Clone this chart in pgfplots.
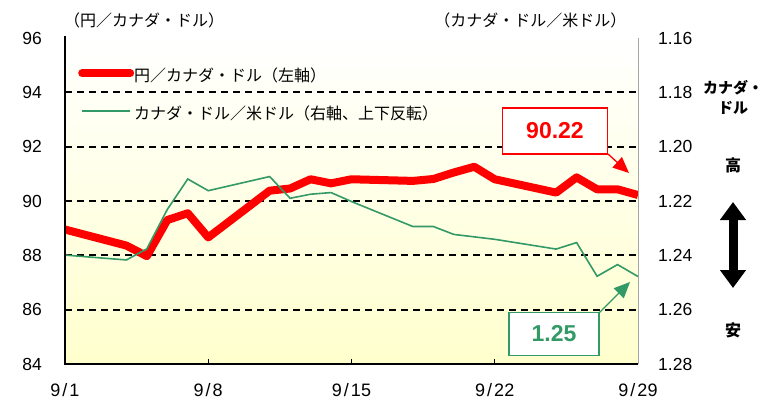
\documentclass[border=0pt]{standalone}
\usepackage{pgfplots}
\pgfplotsset{compat=1.18}
\usepackage{fontspec}
\setmainfont{Liberation Sans}
\newfontfamily\jp{Noto Sans CJK JP}
\usetikzlibrary{arrows.meta}
\definecolor{cred}{RGB}{255,0,0}
\definecolor{cgreen}{RGB}{51,153,102}
\definecolor{bgy}{RGB}{255,255,205}
\newcommand{\fs}[1]{\fontsize{#1}{#1}\selectfont}
\pgfplotstableread{
d v
1 88.95
4 88.36
5 87.97
6 89.30
7 89.55
8 88.66
11 90.38
12 90.46
13 90.80
14 90.65
15 90.80
18 90.74
19 90.81
20 91.05
21 91.26
22 90.80
25 90.31
26 90.87
27 90.43
28 90.43
29 90.22
}\jpycad
\pgfplotstableread{
d v
1 1.2399
4 1.2417
5 1.2376
6 1.2231
7 1.2119
8 1.2162
11 1.2110
12 1.2190
13 1.2175
14 1.2169
15 1.2202
18 1.2294
19 1.2294
20 1.2323
21 1.2332
22 1.2341
25 1.2377
26 1.2353
27 1.2477
28 1.2434
29 1.2478
}\cadusd
\begin{document}
\begin{tikzpicture}[x=1pt,y=1pt]
\begin{axis}[
  at={(65pt,36pt)}, anchor=south west,
  scale only axis, width=573pt, height=326pt,
  xmin=1, xmax=29, ymin=84, ymax=96,
  /pgf/number format/assume math mode=true,
  axis background/.style={top color=white, bottom color=bgy},
  axis line style={draw=gray!70, line width=0.8pt},
  axis x line*=bottom, axis y line*=left,
  xtick={1,8,15,22,29},
  xticklabels={9\kern2pt/\kern2pt1, 9\kern2pt/\kern2pt8, 9\kern2pt/\kern2pt15, 9\kern2pt/\kern2pt22, 9\kern2pt/\kern2pt29},
  xtick align=inside, major tick length=5pt,
  x tick style={black, line width=1pt},
  ytick={84,86,...,96},
  y tick style={draw=none},
  extra y ticks={86,88,90,92,94},
  extra y tick labels={},
  extra y tick style={grid=major, major grid style={black, line width=1.7pt, dash pattern=on 7pt off 5pt}},
  xticklabel style={font=\fs{18}, anchor=center, yshift=-26pt},
  yticklabel style={font=\fs{17.5}, anchor=east, inner sep=0pt, xshift=-23pt},
  clip=false,
]
\addplot[cred, line width=8pt, line join=round] table[x=d,y=v]{\jpycad};
\end{axis}
\begin{axis}[
  at={(65pt,36pt)}, anchor=south west,
  scale only axis, width=573pt, height=326pt,
  xmin=1, xmax=29, ymin=1.16, ymax=1.28, y dir=reverse,
  /pgf/number format/assume math mode=true,
  axis x line=none, axis y line*=right,
  axis line style={draw=gray!70, line width=0.8pt},
  ytick={1.16,1.18,...,1.28},
  y tick style={draw=none},
  yticklabel={\pgfmathprintnumber[fixed,fixed zerofill,precision=2]{\tick}},
  yticklabel style={font=\fs{17.5}, anchor=west, inner sep=0pt, xshift=20pt},
  legend style={at={(0,1)}, anchor=north west, xshift=10pt, yshift=-29pt,
    draw=none, fill=none, font=\jp\fs{16}, row sep=22pt,
    nodes={inner sep=0pt, text height=12pt, text depth=4pt}},
  legend cell align=left,
  legend image code/.code={\draw[#1] (4pt,4pt) -- (52pt,4pt);},
  /tikz/every even column/.append style={column sep=9pt},
  clip=false,
]
\addlegendimage{cred, line width=8pt, line cap=round}
\addlegendentry{円／カナダ・ドル（左軸）}
\addplot[cgreen, line width=1.6pt] table[x=d,y=v]{\cadusd};
\addlegendentry{カナダ・ドル／米ドル（右軸、上下反転）}
\end{axis}
% black left and bottom axis lines
\draw[black, line width=1.6pt] (65pt,364pt) -- (65pt,36pt) -- (638pt,36pt);
% titles
\node[font=\jp\fs{16}] at (144pt,380pt) {（円／カナダ・ドル）};
\node[font=\jp\fs{16}, anchor=east] at (630pt,380pt) {（カナダ・ドル／米ドル）};
% annotations
\node[draw=cred, line width=1.3pt, fill=white, minimum width=105pt, minimum height=46pt,
  font=\bfseries\fs{23}, text=cred] (rb) at (555pt,269pt) {90.22};
\draw[cred, line width=1.3pt, -{Triangle[length=16pt,width=14pt]}] (608pt,246pt) -- (629pt,227pt);
\node[draw=cgreen, line width=1.3pt, fill=white, minimum width=90pt, minimum height=43pt,
  font=\bfseries\fs{23}, text=cgreen] (gb) at (554pt,66pt) {1.25};
\draw[cgreen, line width=1.3pt, -{Triangle[length=16pt,width=14pt]}] (599pt,87pt) -- (630pt,118pt);
% right side legend
\node[font=\jp\bfseries\fs{15}, align=center, inner sep=0pt] at (733pt,303pt) {カナダ・\\[5pt]ドル};
\node[font=\jp\bfseries\fs{16}] at (733pt,235pt) {高};
\draw[black, line width=9pt, {Triangle[length=18pt,width=25pt]}-{Triangle[length=18pt,width=25pt]}] (733pt,198pt) -- (733pt,112pt);
\node[font=\jp\bfseries\fs{16}] at (733pt,70pt) {安};
\pgfresetboundingbox
\useasboundingbox (0,0) rectangle (763pt,400pt);
\end{tikzpicture}
\end{document}
